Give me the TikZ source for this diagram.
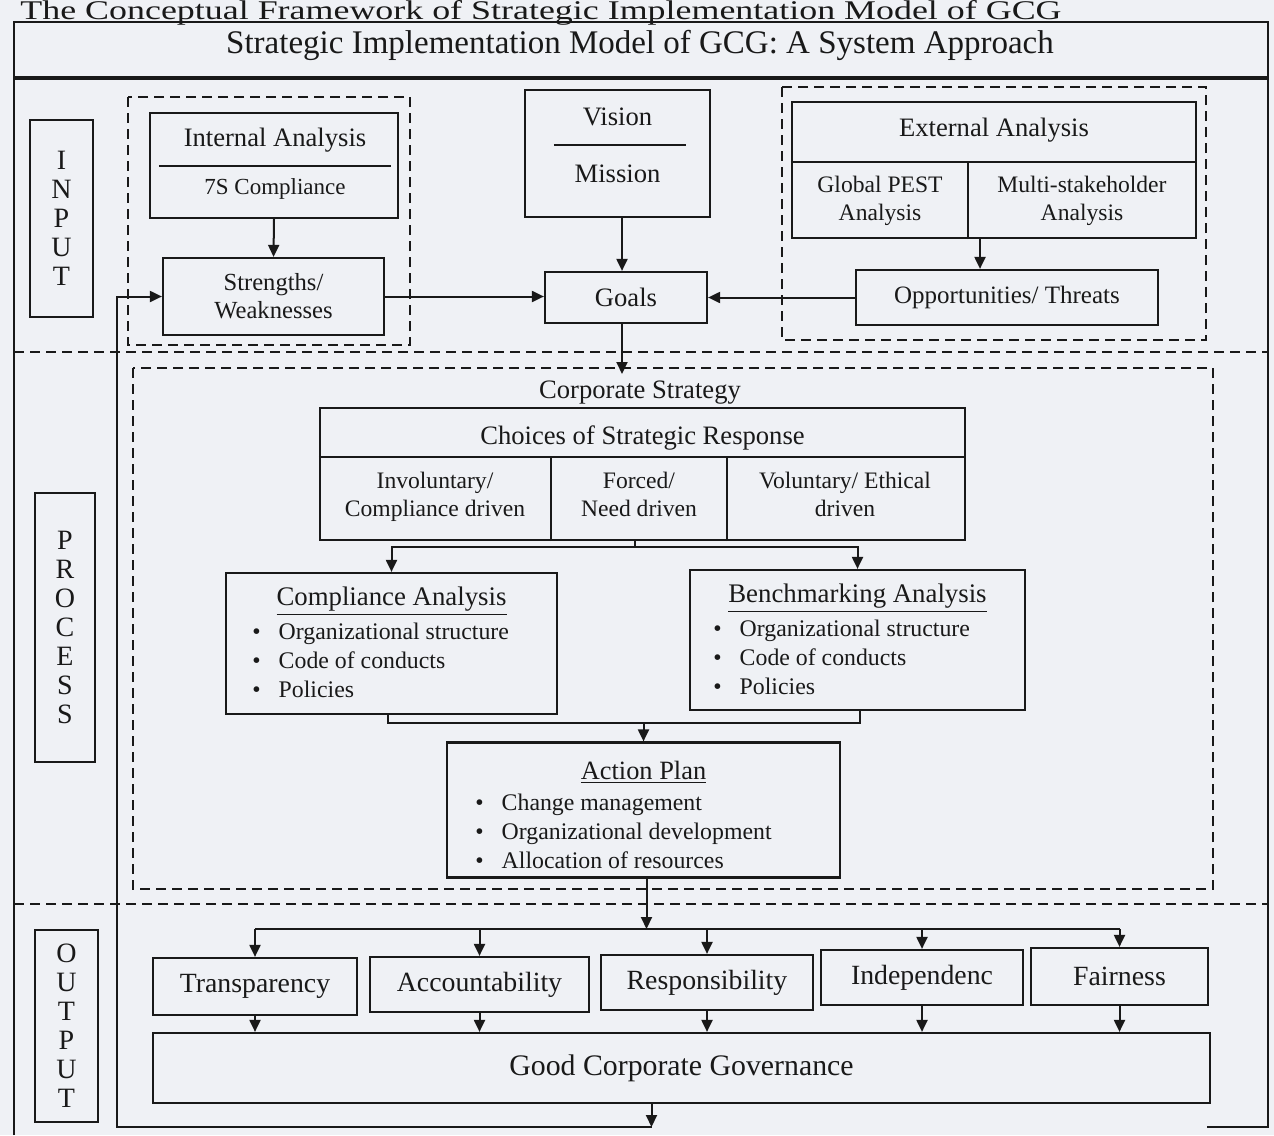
\documentclass[tikz,border=0pt]{standalone}
\usepackage{fontspec}
\setmainfont{Liberation Serif}
\usetikzlibrary{arrows.meta,calc}
\definecolor{bgc}{RGB}{239,241,245}
\definecolor{ink}{RGB}{25,25,25}
\begin{document}
\begin{tikzpicture}[x=0.5pt,y=-0.5pt,
  every node/.style={text=ink},
  box/.style={draw=ink, line width=1.1pt, inner sep=0pt},
  dbox/.style={draw=ink, line width=1pt, dash pattern=on 5pt off 3pt},
  arr/.style={draw=ink, line width=1pt, -{Triangle[length=6pt,width=5.5pt]}},
  ln/.style={draw=ink, line width=1pt},
  txt/.style={inner sep=0pt, align=center, font=\fontsize{11.8}{14}\selectfont},
  big/.style={inner sep=0pt, align=center, font=\fontsize{13.3}{14}\selectfont},
  vlet/.style={box, align=center, font=\fontsize{14}{14.5}\selectfont},
  blist/.style={inner sep=0pt, align=left, font=\fontsize{11.9}{14.5}\selectfont},
  outb/.style={box, font=\fontsize{13.9}{15}\selectfont}
]
\fill[bgc] (0,0) rectangle (1274,1135);
\clip (0,0) rectangle (1274,1135);

% caption
\node[anchor=base west, inner sep=0pt, font=\fontsize{13.5}{15}\selectfont] (cap) at (20,19.5) {\scalebox{1.33}[1]{The Conceptual Framework of Strategic Implementation Model of GCG}};

% outer frame and title band
\draw[ink, line width=1.4pt] (14,1135) -- (14,22) -- (1268,22) -- (1268,1127) -- (1207,1127);
\draw[ink, line width=1.6pt] (14,78) -- (1268,78);
\node[inner sep=0pt, font=\fontsize{16.5}{18}\selectfont] (title) at (640,45) {Strategic Implementation Model of GCG: A System Approach};

% dashed separators
\draw[dbox] (14,352) -- (1268,352);
\draw[dbox] (14,904) -- (1268,904);

% side labels
\node[vlet, minimum width=31.5pt, minimum height=98.5pt] (inp) at (61.5,218.5) {I\\N\\P\\U\\T};
\node[vlet, minimum width=30pt, minimum height=134.5pt] (proc) at (65,627.5) {P\\R\\O\\C\\E\\S\\S};
\node[vlet, minimum width=31.5pt, minimum height=96pt] (outp) at (66.5,1026) {O\\U\\T\\P\\U\\T};

% INPUT: internal
\draw[dbox] (128,97) rectangle (410,345);
\node[box, minimum width=124pt, minimum height=52.5pt] (ia) at (274,165.5) {};
\node[big] (ia1) at (275,140) {Internal Analysis};
\node[txt, font=\fontsize{11.5}{14}\selectfont] (ia2) at (275,189) {7S Compliance};
\draw[ln] ($(ia.west)+(10,0)$) -- ($(ia.east)+(-8,0)$);
\node[box, txt, font=\fontsize{12.3}{14}\selectfont, minimum width=110.5pt, minimum height=38.5pt] (sw) at (273.5,296.5) {Strengths/\\Weaknesses};

% vision / mission / goals
\node[box, minimum width=92.5pt, minimum height=63.5pt] (vm) at (617.5,153.5) {};
\node[big] (vis) at (617.5,117) {Vision};
\node[big] (mis) at (617.5,174) {Mission};
\draw[ln] ($(vm.west)+(30,-8.5)$) -- ($(vm.east)+(-25,-8.5)$);
\node[box, big, minimum width=81pt, minimum height=25.5pt] (goals) at (626,297.5) {Goals};

% external
\draw[dbox] (782,87) rectangle (1206,340);
\node[box, minimum width=202pt, minimum height=68pt] (ea) at (994,170) {};
\node[big] (ea1) at (994,130) {External Analysis};
\draw[ln] ($(ea.west)+(0,-8)$) -- ($(ea.east)+(0,-8)$);
\draw[ln] ($(ea.south)+(-26,0)$) -- ($(ea.south)+(-26,-76)$);
\node[txt] (pest) at (880,201) {Global PEST\\Analysis};
\node[txt] (msa) at (1082,201) {Multi-stakeholder\\Analysis};
\node[box, txt, font=\fontsize{12.5}{14}\selectfont, minimum width=151pt, minimum height=27.5pt] (ot) at (1007,297.5) {Opportunities/ Threats};

% input arrows
\draw[arr] (ia.south) -- (sw.north);
\draw[arr] ($(vm.south)+(4.5,0)$) -- ($(goals.north)+(-4,0)$);
\draw[arr] (sw.east) -- (sw.east -| goals.west);
\draw[arr] (ot.west) -- (ot.west -| goals.east);
\draw[arr] ($(ea.south)+(-14,0)$) -- ($(ot.north)+(-27,0)$);

% PROCESS
\draw[dbox] (133,368) rectangle (1213,889);
\coordinate (cstop) at (622,374);
\draw[arr] ($(goals.south)+(-4,0)$) -- (cstop);
\node[big] (cs) at (640,393) {Corporate Strategy};

\node[box, minimum width=322.5pt, minimum height=66pt] (ch) at (642.5,474) {};
\node[big] (ch1) at (642.5,438) {Choices of Strategic Response};
\draw[ln] ($(ch.west)+(0,-17)$) -- ($(ch.east)+(0,-17)$);
\draw[ln] ($(ch.south)+(-91.5,0)$) -- ($(ch.south)+(-91.5,-83)$);
\draw[ln] ($(ch.south)+(84.5,0)$) -- ($(ch.south)+(84.5,-83)$);
\node[txt] (ch2) at (435,497) {Involuntary/\\Compliance driven};
\node[txt] (ch3) at (639,494) {Forced/\\Need driven};
\node[txt] (ch4) at (845,494) {Voluntary/ Ethical\\driven};

\node[box, minimum width=165.5pt, minimum height=70.5pt] (ca) at (391.5,643.5) {};
\node[inner sep=0pt, font=\fontsize{13.4}{14}\selectfont] (cat) at (391.5,601) {\underline{Compliance Analysis}};
\node[blist, anchor=west] (cal) at (252,660) {\textbullet\hspace{9pt}Organizational structure\\\textbullet\hspace{9pt}Code of conducts\\\textbullet\hspace{9pt}Policies};

\node[box, minimum width=167.5pt, minimum height=70pt] (ba) at (857.5,640) {};
\node[inner sep=0pt, font=\fontsize{13.4}{14}\selectfont] (bat) at (857.5,598) {\underline{Benchmarking Analysis}};
\node[blist, anchor=west] (bal) at (713,657) {\textbullet\hspace{9pt}Organizational structure\\\textbullet\hspace{9pt}Code of conducts\\\textbullet\hspace{9pt}Policies};

\coordinate (chb) at ($(ch.south)+(-8,6)$);
\draw[ln] ($(ch.south)+(-8,0)$) -- (chb);
\draw[arr] (chb) -| (ca.north);
\draw[arr] (chb) -| (ba.north);

\node[box, minimum width=196.5pt, minimum height=67.5pt] (ap) at (643.5,810) {};
\node[inner sep=0pt, font=\fontsize{13.2}{14}\selectfont] (apt) at (643.5,772) {\underline{Action Plan}};
\node[blist, anchor=west] (apl) at (475,831) {\textbullet\hspace{9pt}Change management\\\textbullet\hspace{9pt}Organizational development\\\textbullet\hspace{9pt}Allocation of resources};

\coordinate (mg) at ($(ca.south)+(-4,8)$);
\draw[ln] ($(ca.south)+(-4,0)$) -- (mg) -| ($(ba.south)+(2,0)$);
\draw[arr] (mg -| ap.north) -- (ap.north);

% OUTPUT
\node[outb, minimum width=102pt, minimum height=28.5pt] (tr) at (255,986.5) {Transparency};
\node[outb, minimum width=109.5pt, minimum height=27.5pt] (ac) at (479.5,984.5) {Accountability};
\node[outb, minimum width=106pt, minimum height=27.5pt] (re) at (707,982.5) {Responsibility};
\node[outb, minimum width=101pt, minimum height=27.5pt] (in) at (922,977.5) {Independenc};
\node[outb, minimum width=88.5pt, minimum height=28.5pt] (fa) at (1119.5,976.5) {Fairness};
\node[box, font=\fontsize{14.9}{16}\selectfont, minimum width=528.5pt, minimum height=35pt] (gcg) at (681.5,1068) {Good Corporate Governance};

\coordinate (dl) at (0,929);
\draw[arr] ($(ap.south)+(3,0)$) -- ($(ap.south |- dl)+(3,0)$);
\draw[ln] (tr.north |- dl) -- (fa.north |- dl);
\foreach \b in {tr,ac,re,in,fa}{
  \draw[arr] (\b.north |- dl) -- (\b.north);
  \draw[arr] (\b.south) -- (\b.south |- gcg.north);
}

% feedback loop
\coordinate (fbc) at (117,1127);
\draw[arr] ($(gcg.south)+(-30,0)$) -- ($(gcg.south |- fbc)+(-30,0)$);
\draw[arr] ($(gcg.south |- fbc)+(-30,0)$) -- (fbc) |- (sw.west);
\end{tikzpicture}
\end{document}
